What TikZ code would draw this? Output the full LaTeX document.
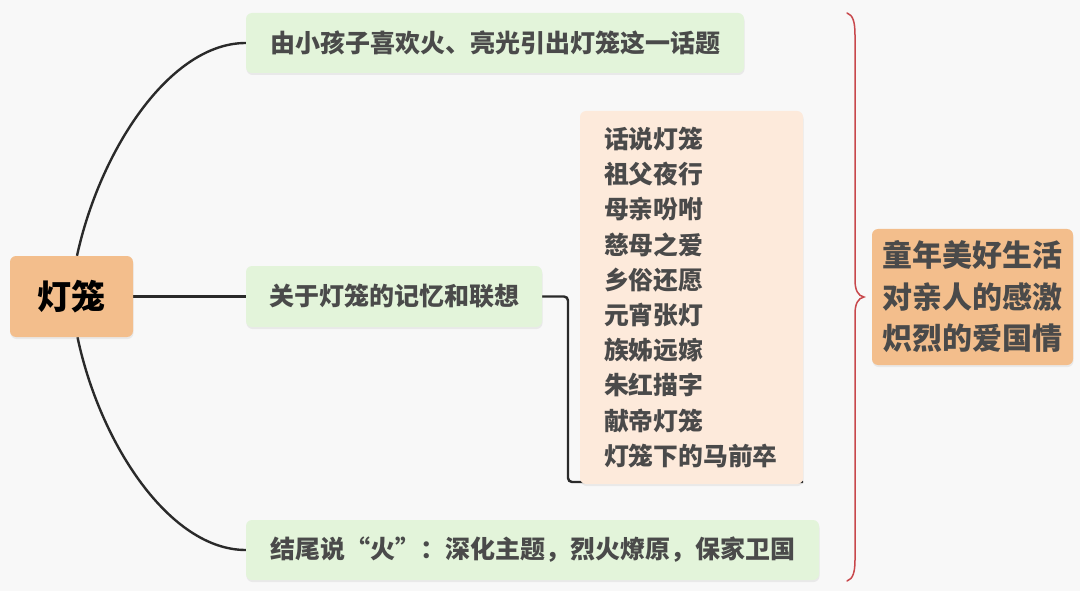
\documentclass[tikz,border=0pt]{standalone}
\usepackage{fontspec}
\setmainfont{Noto Sans CJK SC}
\usetikzlibrary{shadows,backgrounds}
\definecolor{bg}{HTML}{F8F8F8}
\definecolor{leaf}{HTML}{E3F4DA}
\definecolor{peach}{HTML}{FDEADB}
\definecolor{orng}{HTML}{F3BE8C}
\definecolor{txt}{HTML}{4A4A4A}
\definecolor{lnk}{HTML}{2A2A2A}
\definecolor{brc}{HTML}{C8484C}
\begin{document}
\begin{tikzpicture}[x=1pt,y=-1pt,
  box/.style={rounded corners=6pt, inner sep=0pt,
    drop shadow={opacity=0.12,shadow xshift=0.5pt,shadow yshift=-2pt}},
  leafbox/.style={box, fill=leaf, text=txt, font=\fontsize{25}{29}\selectfont\bfseries},
  link/.style={draw=lnk, line width=2.4pt},
  bracepath/.style={draw=brc, line width=1.5pt, line cap=round},
]
\begin{scope}[on background layer]
  \fill[bg] (0,0) rectangle (1080,591);
\end{scope}
\useasboundingbox (0,0) rectangle (1080,591);

\node[box, fill=orng, text=black, minimum width=123pt, minimum height=81pt,
  font=\fontsize{34}{38}\selectfont\bfseries] (root) at (71.5,296.5) {灯笼};
\node[leafbox, minimum width=498pt, minimum height=60pt] (n1) at (495,43)
  {由小孩子喜欢火、亮光引出灯笼这一话题};
\node[leafbox, minimum width=296pt, minimum height=61pt] (n2) at (394,296.5)
  {关于灯笼的记忆和联想};
\node[leafbox, minimum width=573pt, minimum height=60pt] (n3) at (532.5,550)
  {结尾说“火”：深化主题，烈火燎原，保家卫国};
\node[box, fill=peach, text=txt, minimum height=373pt, text width=175pt,
  inner xsep=24pt, align=left, font=\fontsize{24.8}{35.2}\selectfont\bfseries]
  (list) at (691.5,297.5)
  {话说灯笼\\祖父夜行\\母亲吩咐\\慈母之爱\\乡俗还愿\\元宵张灯\\族姊远嫁\\朱红描字\\献帝灯笼\\灯笼下的马前卒};
\node[box, fill=orng, text=txt, minimum width=201pt, minimum height=136pt,
  align=center, font=\fontsize{30}{41.5}\selectfont\bfseries] (sum) at (972.5,297)
  {童年美好生活\\对亲人的感激\\炽烈的爱国情};

\coordinate (elbowA) at (568,296.5);
\coordinate (elbowB) at (568,482);
\coordinate (elbowC) at (803,482);

\begin{scope}[on background layer]
  \draw[link] ([xshift=5.5pt]root.north) .. controls (100,150) and (170,43) .. (n1.west);
  \draw[link] ([xshift=6pt]root.south) .. controls (100,444) and (170,550) .. (n3.west);
  \draw[link] (root.east) -- (n2.west);
  \draw[link, rounded corners=4pt] (n2.east) -- (elbowA) -- (elbowB) -- (elbowC);
\end{scope}

\coordinate (brTop) at (847,13);
\coordinate (brTip) at (864,297);
\coordinate (brBot) at (847,581);
\draw[bracepath] (brTop) .. controls (853,15) and (855,22) .. (855,35) -- (855,280)
  .. controls (855,290) and (858,296) .. (brTip)
  .. controls (858,298) and (855,304) .. (855,314) -- (855,560)
  .. controls (855,572) and (853,579) .. (brBot);
\end{tikzpicture}
\end{document}
